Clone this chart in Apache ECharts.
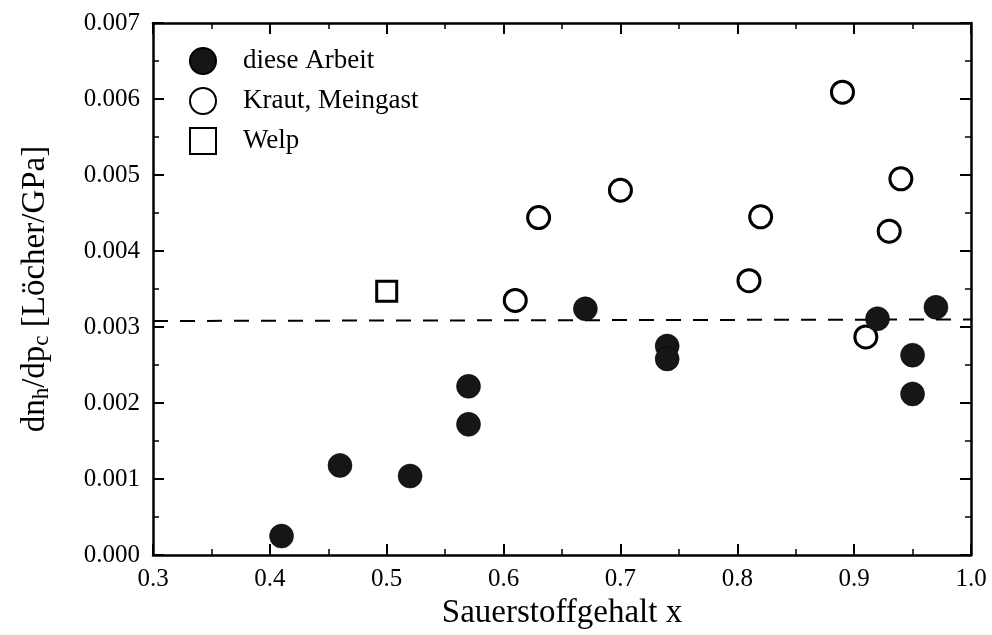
<!DOCTYPE html>
<html>
<head>
<meta charset="utf-8">
<script src="https://cdn.jsdelivr.net/npm/echarts@6/dist/echarts.min.js"></script>
<style>html,body{margin:0;padding:0;background:#fff}#c{width:992px;height:635px}</style>
</head>
<body>
<div id="c"></div>
<script>
const xTicks = [0.3, 0.4, 0.5, 0.6, 0.7, 0.8, 0.9, 1.0];
const yTicks = [0.000, 0.001, 0.002, 0.003, 0.004, 0.005, 0.006, 0.007];
const arbeitX = [0.41, 0.46, 0.52, 0.57, 0.57, 0.67, 0.74, 0.74, 0.92, 0.95, 0.95, 0.97];
const arbeitY = [0.00025, 0.00118, 0.00104, 0.00222, 0.00172, 0.00324, 0.00275, 0.00258, 0.00311, 0.00263, 0.00212, 0.00326];
const krautX = [0.61, 0.63, 0.70, 0.81, 0.82, 0.89, 0.91, 0.93, 0.94];
const krautY = [0.00335, 0.00444, 0.00480, 0.00361, 0.00445, 0.00609, 0.00287, 0.00426, 0.00495];
const welpX = [0.50];
const welpY = [0.00347];
const fitX = [0.3, 1.0];
const fitY = [0.00308, 0.00310];
const seriesNames = ['diese Arbeit', 'Kraut, Meingast', 'Welp'];

const zip = (a, b) => a.map((v, i) => [v, b[i]]);
const F = '"Liberation Serif", "Times New Roman", serif';
const axisLine = {show: true, onZero: false, lineStyle: {color: '#000', width: 2.5}};
const xBase = {
  type: 'value', min: xTicks[0], max: xTicks[xTicks.length - 1], interval: 0.1,
  splitLine: {show: false}, axisLine: axisLine,
  axisTick: {show: true, inside: true, length: 11, lineStyle: {color: '#000', width: 2}},
  minorTick: {show: true, splitNumber: 2, length: 6, lineStyle: {color: '#000', width: 1.5}}
};
const yBase = {
  type: 'value', min: yTicks[0], max: yTicks[yTicks.length - 1], interval: 0.001,
  splitLine: {show: false}, axisLine: axisLine,
  axisTick: {show: true, inside: true, length: 11, lineStyle: {color: '#000', width: 2}},
  minorTick: {show: true, splitNumber: 2, length: 6, lineStyle: {color: '#000', width: 1.5}}
};
const chart = echarts.init(document.getElementById('c'), null, {renderer: 'canvas'});
chart.setOption({
  animation: false,
  backgroundColor: '#fff',
  grid: {left: 153, right: 21, top: 23, bottom: 77, containLabel: false},
  legend: {
    data: seriesNames, orient: 'vertical', left: 184, top: 42,
    itemWidth: 26, itemHeight: 26, itemGap: 12, selectedMode: false,
    textStyle: {fontFamily: F, fontSize: 27, color: '#000', padding: [0, 0, 0, 22]}
  },
  xAxis: [
    Object.assign({}, xBase, {
      position: 'bottom',
      name: 'Sauerstoffgehalt x', nameLocation: 'middle', nameGap: 41,
      nameTextStyle: {fontFamily: F, fontSize: 33, color: '#000'},
      axisLabel: {show: true, margin: 12, fontFamily: F, fontSize: 25, color: '#000',
        formatter: v => v.toFixed(1)}
    }),
    Object.assign({}, xBase, {position: 'top', axisLabel: {show: false}})
  ],
  yAxis: [
    Object.assign({}, yBase, {
      position: 'left',
      name: '{n|dn}{s|h}{n|/dp}{s|c}{n| [Löcher/GPa]}',
      nameLocation: 'middle', nameGap: 100, nameRotate: 90,
      nameTextStyle: {
        fontFamily: F, fontSize: 33, color: '#000',
        rich: {
          n: {fontFamily: F, fontSize: 33, color: '#000', lineHeight: 36, verticalAlign: 'middle'},
          s: {fontFamily: F, fontSize: 23, color: '#000', lineHeight: 22, verticalAlign: 'bottom'}
        }
      },
      axisLabel: {show: true, margin: 13, fontFamily: F, fontSize: 25, color: '#000',
        formatter: v => v.toFixed(3)}
    }),
    Object.assign({}, yBase, {position: 'right', axisLabel: {show: false}})
  ],
  series: [
    {
      name: 'fit', type: 'line', data: zip(fitX, fitY), symbol: 'none', z: 1,
      lineStyle: {color: '#000', width: 2, type: [15, 12]}, silent: true
    },
    {
      name: seriesNames[1], type: 'scatter', data: zip(krautX, krautY), symbol: 'circle', symbolSize: 22, z: 2,
      itemStyle: {color: '#fff', borderColor: '#000', borderWidth: 3, opacity: 1}
    },
    {
      name: seriesNames[2], type: 'scatter', data: zip(welpX, welpY), symbol: 'rect', symbolSize: 20, z: 2,
      itemStyle: {color: '#fff', borderColor: '#000', borderWidth: 3, opacity: 1}
    },
    {
      name: seriesNames[0], type: 'scatter', data: zip(arbeitX, arbeitY), symbol: 'circle', symbolSize: 24, z: 3,
      itemStyle: {color: '#161616', borderColor: '#000', borderWidth: 0.5, opacity: 1}
    }
  ]
});
</script>
</body>
</html>
